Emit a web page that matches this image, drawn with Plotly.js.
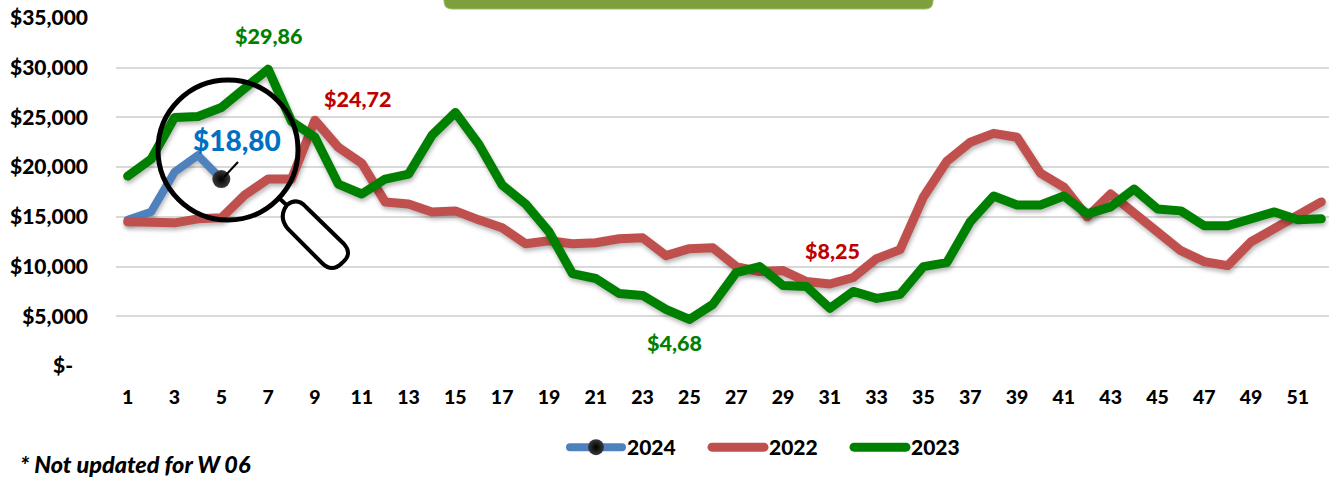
<!DOCTYPE html>
<html><head><meta charset="utf-8">
<script src="https://cdn.plot.ly/plotly-3.0.1.min.js"></script>
<style>
html,body{margin:0;padding:0;background:#fff;overflow:hidden}
.scatterlayer .trace .lines{filter:drop-shadow(1px 3px 2px rgba(0,0,0,.28))}
.js-line,.legendlines path{stroke-linecap:round;stroke-linejoin:round}
</style></head><body><div id="chart" style="width:1329px;height:482px"></div>
<script>
const weeks=[1,2,3,4,5,6,7,8,9,10,11,12,13,14,15,16,17,18,19,20,21,22,23,24,25,26,27,28,29,30,31,32,33,34,35,36,37,38,39,40,41,42,43,44,45,46,47,48,49,50,51,52];
const weeks2024=[1,2,3,4,5];
const values2024=[14700,15500,19500,21200,18800];
const values2022=[14500,14500,14400,14800,14900,17200,18800,18800,24720,22000,20400,16500,16300,15500,15600,14700,13900,12300,12600,12300,12400,12800,12900,11100,11800,11900,10000,9500,9600,8500,8250,8900,10800,11700,17000,20600,22500,23400,23000,19400,18000,15000,17300,15400,13600,11600,10500,10100,12500,13900,15300,16500];
const values2023=[19100,20800,25000,25100,26000,28000,29860,24600,23000,18300,17300,18800,19300,23200,25500,22300,18200,16300,13500,9300,8800,7300,7100,5700,4680,6200,9400,10000,8100,8000,5800,7500,6800,7200,10000,10400,14500,17100,16200,16200,17100,15300,16000,17800,15800,15600,14100,14100,14700,15500,14700,14800];
const yTickVals=[0,5000,10000,15000,20000,25000,30000,35000];
const yTickText=['$-\u00a0\u00a0\u00a0','$5,000','$10,000','$15,000','$20,000','$25,000','$30,000','$35,000'];
const FONT='Lato, Carlito, sans-serif';
const W=1329,H=482;
const L={l:116,r:0,t:18,b:116};
const fx=x=>(x-L.l)/(W-L.l-L.r), fy=y=>(H-L.b-y)/(H-L.t-L.b);
const P=(x,y)=>fx(x).toFixed(5)+','+fy(y).toFixed(5);
const traces=[
 {name:'2024',x:weeks2024,y:values2024,mode:'lines+markers',selectedpoints:[4],
  unselected:{marker:{opacity:0}},selected:{marker:{opacity:1}},
  line:{color:'#4F81BD',width:8},
  marker:{size:18,color:'#3a3a3a',gradient:{type:'radial',color:'#000000'},line:{width:0}}},
 {name:'2022',x:weeks,y:values2022,mode:'lines',line:{color:'#C0504D',width:9}},
 {name:'2023',x:weeks,y:values2023,mode:'lines',line:{color:'#008000',width:9}}
];
const ann=(x,y,t,c,sz,ax,ay)=>({x,y,xref:'x',yref:'y',text:t,showarrow:false,xshift:ax,yshift:ay,
  font:{family:FONT,size:sz,color:c,weight:900},xanchor:'center',yanchor:'middle'});
const layout={width:W,height:H,margin:{l:L.l,r:L.r,t:L.t,b:L.b},paper_bgcolor:'#fff',plot_bgcolor:'#fff',
 font:{family:FONT,color:'#000'},
 xaxis:{range:[0.5,52.33],tick0:1,dtick:2,tickmode:'linear',showgrid:false,zeroline:false,showline:false,ticks:'',
   tickfont:{family:FONT,size:19.5,color:'#000',weight:900},ticklabelstandoff:17,automargin:false},
 yaxis:{range:[0,35000],tickmode:'array',tickvals:yTickVals,ticktext:yTickText,showgrid:true,gridcolor:'#D9D9D9',gridwidth:2,
   zeroline:false,showline:false,ticks:'',tickfont:{family:FONT,size:21,color:'#000',weight:900},ticklabelstandoff:27,automargin:false},
 legend:{orientation:'h',x:fx(565),y:fy(427),xanchor:'left',yanchor:'top',itemwidth:52,entrywidth:75,entrywidthmode:'pixels',
   font:{family:FONT,size:21,color:'#000',weight:900},traceorder:'normal',bgcolor:'rgba(0,0,0,0)'},
 annotations:[
  ann(7,29860,'$29,86','#008000',21.5,0,33),
  ann(9,24720,'$24,72','#C00000',21.5,43,21),
  ann(5,18800,'$18,80','#0070C0',28,16,39),
  ann(25,4680,'$4,68','#008000',21.5,-15,-24),
  ann(31,8250,'$8,25','#C00000',21.5,3,33),
  {xref:'paper',yref:'paper',x:fx(18),y:fy(464),xanchor:'left',yanchor:'middle',showarrow:false,
   text:'<i>* Not updated for W 06</i>',font:{family:FONT,size:23.4,color:'#000',weight:900}}
 ],
 shapes:[
  {type:'path',xref:'paper',yref:'paper',layer:'above',
   path:'M'+P(444,-6)+' L'+P(444,1)+' Q'+P(444,9)+' '+P(452,9)+' L'+P(925,9)+' Q'+P(933,9)+' '+P(933,1)+' L'+P(933,-6)+' Z',
   fillcolor:'#7F9F3F',line:{color:'#9BBB59',width:1}},
  {type:'circle',xref:'paper',yref:'paper',layer:'above',x0:fx(158),x1:fx(298),y0:fy(220),y1:fy(80),
   line:{color:'#000',width:5},fillcolor:'rgba(0,0,0,0)'},
  {type:'line',xref:'paper',yref:'paper',layer:'above',x0:fx(280),y0:fy(199),x1:fx(291),y1:fy(209),line:{color:'#000',width:4}},
  {type:'path',xref:'paper',yref:'paper',layer:'above',
   path:'M'+P(287,205)+' Q'+P(297,197)+' '+P(306,207)+' L'+P(344,244)+' Q'+P(353,254)+' '+P(342,263)+' Q'+P(332,273)+' '+P(322,263)+' L'+P(288,229)+' Q'+P(278,217)+' '+P(287,205)+' Z',
   fillcolor:'#fff',line:{color:'#000',width:4}},
  {type:'line',xref:'paper',yref:'paper',layer:'above',x0:fx(224),y0:fy(177),x1:fx(238),y1:fy(162),line:{color:'#000',width:2}}
 ]
};
Plotly.newPlot('chart',traces,layout,{displayModeBar:false,staticPlot:true});
</script></body></html>
